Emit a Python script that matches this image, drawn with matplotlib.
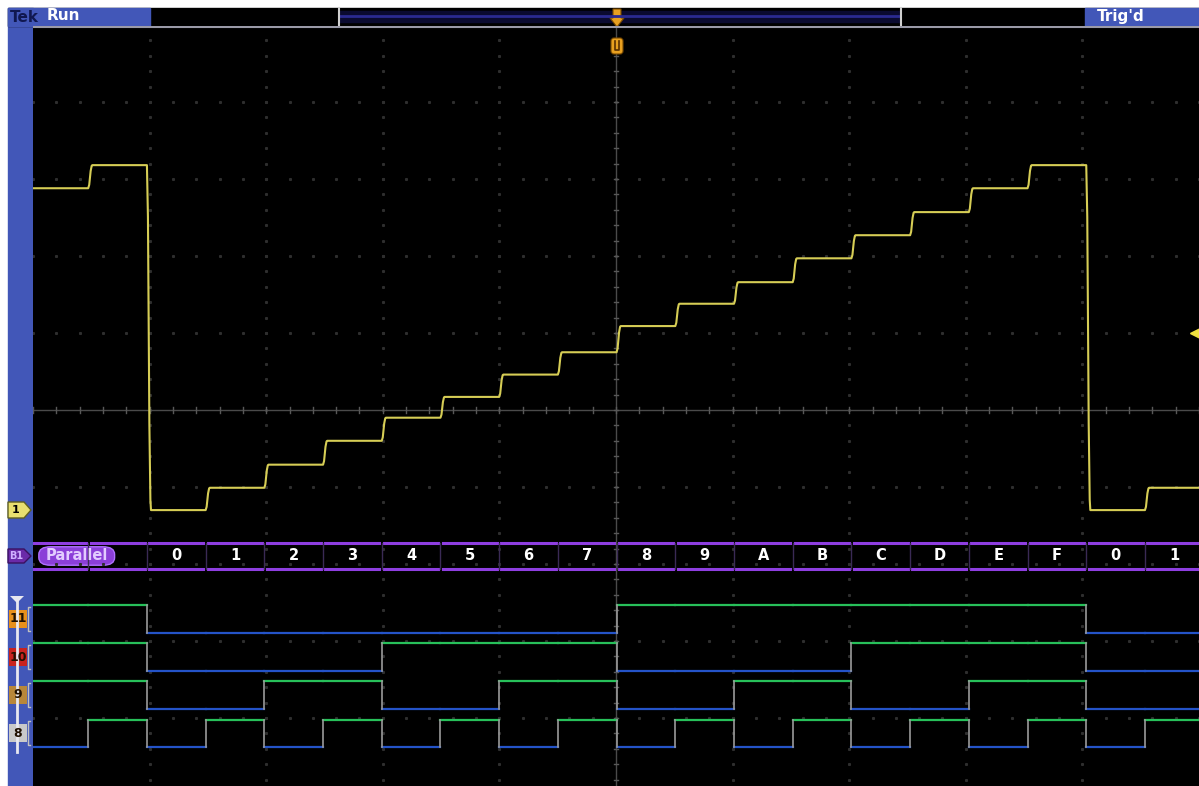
import numpy as np
import matplotlib.pyplot as plt
from matplotlib.patches import Rectangle, FancyBboxPatch, Polygon

# ---- data (divisions) ----
slot_codes = ['E', 'F', '0', '1', '2', '3', '4', '5', '6', '7',
              '8', '9', 'A', 'B', 'C', 'D', 'E', 'F', '0', '1']
t_first = -0.03      # start of first slot (div)
t_slot = 0.5035      # slot width (div)

# analog level for each hex code 0..F (div from centre)
levels = [-1.30, -1.01, -0.71, -0.40, -0.10, 0.17, 0.46, 0.75,
          1.09, 1.38, 1.66, 1.97, 2.27, 2.57, 2.88, 3.18]

dig_names = ['11', '10', '9', '8']
dig_bits = [3, 2, 1, 0]
dig_high = [-2.53, -3.03, -3.52, -4.02]
dig_amp = 0.36
dig_label_colors = ['#e8901c', '#c8231e', '#b8873a', '#c9c9c9']

bus_y = -1.896
bus_h = 0.165
trig_level = 1.0

W, H = 1199, 786
fig = plt.figure(figsize=(W / 100, H / 100), dpi=100)
fig.patch.set_facecolor('white')

# ---- chrome (pixel coords) ----
bg = fig.add_axes([0, 0, 1, 1])
bg.set_xlim(0, W)
bg.set_ylim(H, 0)
bg.axis('off')
blue = '#4257b8'
bg.add_patch(Rectangle((8, 8), 25, H - 8, color=blue))
bg.add_patch(Rectangle((8, 8), W - 8, 18, color='black'))
bg.add_patch(Rectangle((8, 8), 142, 18, color=blue))
bg.add_patch(Rectangle((1085, 8), W - 1085, 18, color=blue))
bg.add_patch(Rectangle((340, 11), 560, 11, color='#0a0a30'))
bg.plot([340, 900], [15.5, 15.5], color='#2a2a90', lw=2)
bg.plot([339, 339], [8, 26], color='#d0d0d0', lw=1.5)
bg.plot([901, 901], [8, 26], color='#d0d0d0', lw=1.5)
bg.text(10, 17, 'Tek', color='#101850', fontsize=11, fontweight='bold', va='center')
bg.text(47, 16, 'Run', color='white', fontsize=11, fontweight='bold', va='center')
bg.text(1097, 16, "Trig'd", color='white', fontsize=11, fontweight='bold', va='center')

# ---- scope display (division coords) ----
ax = fig.add_axes([33 / W, 0, 1 - 33 / W, (H - 26) / H])
ax.set_facecolor('black')
ax.set_xlim(0, 10)
ax.set_ylim(-(H - 410) / 77, (410 - 26) / 77)
ax.set_xticks([])
ax.set_yticks([])
for s in ax.spines.values():
    s.set_visible(False)

grid_c = '#2e2e2e'
minor = np.arange(0, 10.01, 0.2)
for gx in range(1, 10):
    if gx == 5:
        continue
    ys = np.arange(-5, 5.01, 0.2)
    ax.plot(np.full_like(ys, gx), ys, ls='none', marker='s', ms=1.2, color=grid_c)
for gy in range(-4, 5):
    if gy == 0:
        continue
    ax.plot(minor, np.full_like(minor, gy), ls='none', marker='s', ms=1.2, color=grid_c)
ax.axhline(0, color='#4a4a4a', lw=1)
ax.axvline(5, color='#4a4a4a', lw=1)
for m in minor:
    ax.plot([m, m], [-0.04, 0.04], color='#585858', lw=1)
for m in np.arange(-5, 5.01, 0.2):
    ax.plot([4.98, 5.02], [m, m], color='#585858', lw=1)
ax.axhline(ax.get_ylim()[1] - 0.01, color='#9a9aa8', lw=1.5)

# analog staircase with slightly rounded edges
ramp = 0.035
tx, ty = [], []
prev = None
for i, c in enumerate(slot_codes):
    t0 = t_first + i * t_slot
    v = levels[int(c, 16)]
    if prev is not None:
        d = v - prev
        tx += [t0 + 0.25 * ramp, t0 + 0.6 * ramp, t0 + 0.85 * ramp]
        ty += [prev + 0.15 * d, prev + 0.75 * d, prev + 0.97 * d]
    tx += [t0 + ramp, t0 + t_slot]
    ty += [v, v]
    prev = v
ax.plot(tx, ty, color='#d6cd55', lw=1.5)

# parallel bus
for i, c in enumerate(slot_codes):
    t0 = t_first + i * t_slot
    a, b = t0 + 0.02, t0 + t_slot - 0.02
    ax.plot([a, b], [bus_y + bus_h, bus_y + bus_h], color='#8e3ee0', lw=2.2)
    ax.plot([a, b], [bus_y - bus_h, bus_y - bus_h], color='#8e3ee0', lw=2.2)
    ax.plot([t0, t0], [bus_y - bus_h, bus_y + bus_h], color='#3a2a55', lw=1)
    if i >= 2:
        ax.text(t0 + t_slot / 2, bus_y, c, color='white', fontsize=10.5,
                fontweight='bold', ha='center', va='center')
ax.add_patch(FancyBboxPatch((0.05, bus_y - 0.12), 0.65, 0.24,
                            boxstyle='round,pad=0,rounding_size=0.1',
                            fc='#8b3fd8', ec='#b070ff', lw=1))
ax.text(0.375, bus_y, 'Parallel', color='#e2ccff', fontsize=10.5,
        fontweight='bold', ha='center', va='center')

# digital channels
for name, bit, hi in zip(dig_names, dig_bits, dig_high):
    lo = hi - dig_amp
    states = [(int(c, 16) >> bit) & 1 for c in slot_codes]
    for i, s in enumerate(states):
        t0 = t_first + i * t_slot
        y = hi if s else lo
        ax.plot([max(t0, 0), t0 + t_slot], [y, y],
                color='#27c05a' if s else '#2453c8', lw=1.6)
        if i > 0 and s != states[i - 1]:
            ax.plot([t0, t0], [lo, hi], color='#9a9a9a', lw=1.2)

# trigger level marker
ax.plot([9.97], [trig_level], marker='<', ms=9, color='#f0e040', clip_on=False)

# left strip markers (pixel coords)
bg.add_patch(Polygon([[8, 502], [24, 502], [31, 510], [24, 518], [8, 518]],
                     closed=True, fc='#e8e070', ec='#606020', lw=1))
bg.text(16, 510, '1', color='black', fontsize=8, fontweight='bold', ha='center', va='center')
bg.add_patch(Polygon([[8, 549], [24, 549], [31, 556], [24, 563], [8, 563]],
                     closed=True, fc='#6a2aa8', ec='#3a1060', lw=1))
bg.text(16, 556, 'B1', color='#d0b0ff', fontsize=7, fontweight='bold', ha='center', va='center')
bg.plot([17, 17], [599, 752], color='#e8e8f0', lw=2)
bg.add_patch(Polygon([[10, 596], [24, 596], [17, 603]], closed=True, fc='#e8e8f0'))
for name, hi, col in zip(dig_names, dig_high, dig_label_colors):
    py = 410 - (hi - dig_amp / 2) * 77
    bg.add_patch(Rectangle((9, py - 9), 18, 18, fc=col, ec='none'))
    bg.text(18, py, name, color='#201000', fontsize=9, fontweight='bold',
            ha='center', va='center')
    bg.plot([30, 28, 28, 30], [py - 12, py - 12, py + 12, py + 12], color='#c0c0c0', lw=1)

# orange trigger-position markers
bg.add_patch(Polygon([[613, 9], [621, 9], [621, 18], [624, 18], [617, 27], [610, 18], [613, 18]],
                     closed=True, fc='#e8a020', ec='#7a4a00', lw=0.8))
ax.add_patch(FancyBboxPatch((611, 38), 12, 16, boxstyle='round,pad=0,rounding_size=3',
                            fc='#e8a020', ec='#7a4a00', lw=0.8,
                            transform=bg.transData, clip_on=False, zorder=5))
ax.plot([615, 615, 619, 619], [41, 50, 50, 41], color='#5a3000', lw=1.2,
        transform=bg.transData, clip_on=False, zorder=6)

fig.savefig('out.png', dpi=100, facecolor=fig.get_facecolor())
